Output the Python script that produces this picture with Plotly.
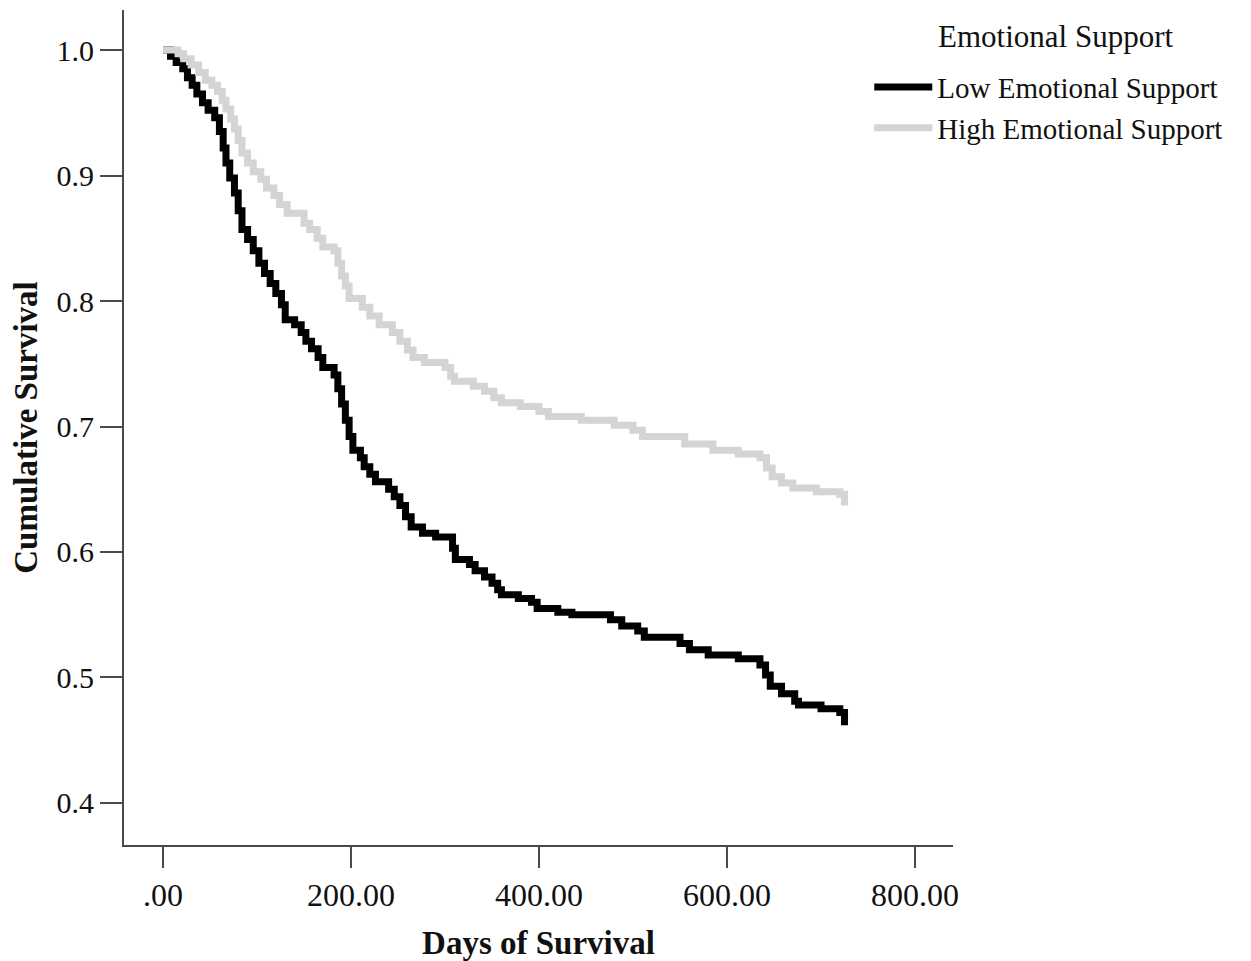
import plotly.graph_objects as go

# ---- data ----
low_days = [0, 8, 14, 21, 26, 31, 36, 42, 48, 55, 60, 64, 67, 71, 76, 80, 84, 90, 96, 102,
            108, 114, 120, 126, 130, 140, 147, 152, 158, 165, 170, 182, 186, 190, 194, 198,
            202, 210, 214, 220, 226, 240, 246, 252, 258, 264, 276, 290, 308, 311, 326, 332,
            342, 350, 356, 360, 378, 392, 398, 420, 435, 476, 488, 505, 512, 550, 560, 580,
            612, 635, 641, 646, 658, 672, 676, 700, 720, 725]
low_surv = [1.0, 0.995, 0.99, 0.985, 0.978, 0.972, 0.965, 0.958, 0.952, 0.946, 0.935, 0.922,
            0.910, 0.898, 0.886, 0.872, 0.857, 0.849, 0.840, 0.830, 0.822, 0.814, 0.806, 0.797,
            0.785, 0.781, 0.775, 0.768, 0.762, 0.755, 0.747, 0.741, 0.730, 0.718, 0.705, 0.692,
            0.681, 0.675, 0.668, 0.662, 0.656, 0.650, 0.644, 0.637, 0.628, 0.620, 0.615, 0.612,
            0.603, 0.594, 0.590, 0.585, 0.580, 0.575, 0.570, 0.566, 0.563, 0.560, 0.555, 0.552,
            0.550, 0.546, 0.541, 0.537, 0.532, 0.527, 0.522, 0.518, 0.515, 0.510, 0.502, 0.493,
            0.487, 0.481, 0.478, 0.475, 0.472, 0.462]

high_days = [0, 16, 22, 30, 38, 45, 52, 58, 63, 67, 72, 76, 80, 84, 90, 96, 104, 110, 118,
             124, 132, 150, 156, 164, 170, 182, 186, 190, 194, 198, 212, 220, 230, 244, 252,
             260, 266, 278, 300, 306, 310, 330, 342, 352, 360, 380, 400, 410, 445, 480, 500,
             510, 555, 585, 612, 635, 642, 648, 658, 670, 695, 720, 725]
high_surv = [1.0, 0.997, 0.993, 0.988, 0.982, 0.976, 0.972, 0.967, 0.960, 0.953, 0.945, 0.937,
             0.928, 0.918, 0.910, 0.903, 0.897, 0.890, 0.884, 0.877, 0.870, 0.862, 0.857, 0.850,
             0.843, 0.840, 0.830, 0.820, 0.812, 0.802, 0.795, 0.788, 0.781, 0.775, 0.768, 0.761,
             0.755, 0.751, 0.747, 0.740, 0.736, 0.732, 0.728, 0.723, 0.719, 0.716, 0.712, 0.708,
             0.705, 0.701, 0.697, 0.692, 0.686, 0.681, 0.678, 0.675, 0.667, 0.660, 0.655, 0.651,
             0.648, 0.646, 0.637]

x_tickvals = [0, 200, 400, 600, 800]
x_ticktext = [".00", "200.00", "400.00", "600.00", "800.00"]
y_tickvals = [0.4, 0.5, 0.6, 0.7, 0.8, 0.9, 1.0]
legend_title = "Emotional Support"

FONT = "Liberation Serif, Times New Roman, serif"
AXIS_COLOR = "#4a4a4a"
TEXT_COLOR = "#111111"

fig = go.Figure()
fig.add_trace(go.Scatter(x=low_days, y=low_surv, mode="lines", line_shape="hv",
                         line=dict(color="#000000", width=7),
                         name="Low Emotional Support"))
fig.add_trace(go.Scatter(x=high_days, y=high_surv, mode="lines", line_shape="hv",
                         line=dict(color="#d4d4d4", width=7),
                         name="High Emotional Support"))

fig.update_layout(
    width=1243, height=953,
    margin=dict(l=116, r=298, t=2, b=116),
    paper_bgcolor="white", plot_bgcolor="white",
    font=dict(family=FONT, color=TEXT_COLOR, size=30),
    showlegend=True,
    legend=dict(
        x=0.899, y=0.938, xanchor="left", yanchor="top",
        bgcolor="rgba(0,0,0,0)",
        font=dict(family=FONT, size=29, color=TEXT_COLOR),
        tracegroupgap=0, itemwidth=58,
    ),
    annotations=[dict(
        text=legend_title, xref="paper", yref="paper",
        x=1.124, y=0.9677, xanchor="center", yanchor="middle",
        showarrow=False, font=dict(family=FONT, size=31, color=TEXT_COLOR),
    )],
)

fig.update_xaxes(
    range=[-41.5, 840.4], showgrid=False, zeroline=False,
    showline=True, linecolor=AXIS_COLOR, linewidth=2,
    ticks="outside", ticklen=21, tickwidth=2, tickcolor=AXIS_COLOR,
    tickvals=x_tickvals, ticktext=x_ticktext,
    tickfont=dict(family=FONT, size=32, color=TEXT_COLOR),
    title=dict(text="<b>Days of Survival</b>", standoff=20,
               font=dict(family=FONT, size=33, color=TEXT_COLOR)),
)
fig.update_yaxes(
    range=[0.3665, 1.0319], showgrid=False, zeroline=False,
    showline=True, linecolor=AXIS_COLOR, linewidth=2,
    ticks="outside", ticklen=22, tickwidth=2, tickcolor=AXIS_COLOR,
    tickvals=y_tickvals, tickformat=".1f",
    tickfont=dict(family=FONT, size=30, color=TEXT_COLOR),
    title=dict(text="<b>Cumulative Survival</b>", standoff=12,
               font=dict(family=FONT, size=33, color=TEXT_COLOR)),
)

fig.write_html("out.html")
